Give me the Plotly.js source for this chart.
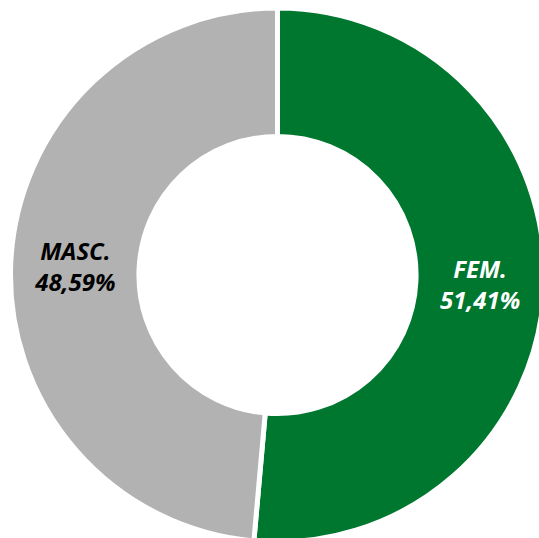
<!DOCTYPE html>
<html>
<head>
<meta charset="utf-8">
<script src="https://cdn.plot.ly/plotly-3.0.1.min.js"></script>
<style>
html,body{margin:0;padding:0;overflow:hidden;background:#fff;}
#chart{width:545px;height:545px;}
</style>
</head>
<body>
<div id="chart"></div>
<script>
const categories = ["FEM.", "MASC."];
const values = [51.41, 48.59];
const valueLabels = ["51,41%", "48,59%"];
const colors = ["#00772f", "#b2b2b2"];
const textColors = ["#ffffff", "#000000"];

const W = 545, H = 545;
const cx = 277.5, cy = 275, r = 267;
const texts = categories.map((c, i) => "<b><i>" + c + "<br>" + valueLabels[i] + "</i></b>");

Plotly.newPlot("chart", [{
  type: "pie",
  labels: categories,
  values: values,
  text: texts,
  textinfo: "text",
  textposition: "inside",
  insidetextorientation: "horizontal",
  sort: false,
  direction: "clockwise",
  rotation: 0,
  hole: 0.519,
  marker: {colors: colors, line: {color: "#ffffff", width: 5}},
  insidetextfont: {family: "Open Sans", size: 24, color: textColors},
  domain: {x: [(cx - r) / W, (cx + r) / W], y: [1 - (cy + r) / H, 1 - (cy - r) / H]},
  hoverinfo: "none"
}], {
  width: W, height: H,
  margin: {l: 0, r: 0, t: 0, b: 0},
  showlegend: false,
  paper_bgcolor: "#ffffff"
}, {staticPlot: true});
</script>
</body>
</html>
